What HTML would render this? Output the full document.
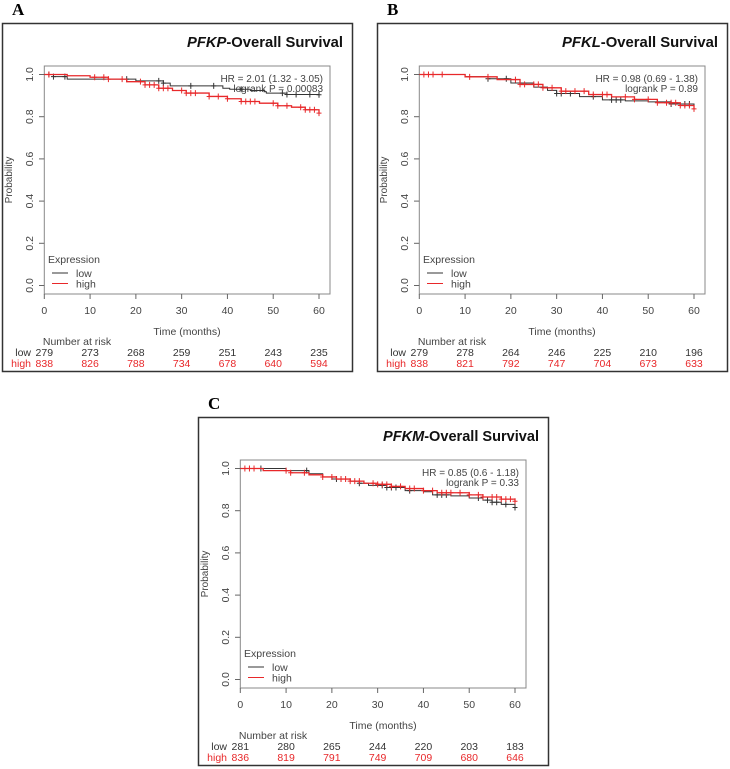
<!DOCTYPE html>
<html><head><meta charset="utf-8"><style>
html,body{margin:0;padding:0;background:#fff}
svg{display:block}
text{font-family:"Liberation Sans",sans-serif}
</style></head><body>
<svg id="fig" width="730" height="769" viewBox="0 0 730 769" xmlns="http://www.w3.org/2000/svg"></svg>
<script>
// ---- data ----
const xTicks=[0,10,20,30,40,50,60];
const yTicks=[0,0.2,0.4,0.6,0.8,1.0];
const yTickLabels=["0.0","0.2","0.4","0.6","0.8","1.0"];
const panelLetters=["A","B","C"];
const panelGenes=["PFKP","PFKL","PFKM"];
const hrLabels=["HR = 2.01 (1.32 - 3.05)","HR = 0.98 (0.69 - 1.38)","HR = 0.85 (0.6 - 1.18)"];
const pLabels=["logrank P = 0.00083","logrank P = 0.89","logrank P = 0.33"];
// step curves: times and survival
const aLowT=[0,2,5,20,26,27.5,39,40.5,45,48,48.5,53,60];
const aLowS=[1,0.99,0.978,0.970,0.959,0.946,0.935,0.930,0.924,0.918,0.912,0.905,0.904];
const aHighT=[0,5,10,14,18,22,25,28,31,36,40,43,47,51,54,57,60];
const aHighS=[1,0.994,0.987,0.978,0.966,0.951,0.935,0.924,0.912,0.896,0.885,0.872,0.864,0.852,0.845,0.833,0.817];
const bLowT=[0,10,15,20,25,28,30,35,40,45,50,55,60];
const bLowS=[1,0.99,0.98,0.96,0.94,0.925,0.91,0.895,0.88,0.875,0.87,0.86,0.845];
const bHighT=[0,10,17,22,27,31,37,42,47,52,57,60];
const bHighS=[1,0.989,0.976,0.953,0.937,0.921,0.905,0.894,0.882,0.866,0.853,0.837];
const cLowT=[0,10,15,18,20,24,26,28,32,36,40,42,46,50,53,55,57,60];
const cLowS=[1,0.99,0.975,0.96,0.95,0.94,0.93,0.92,0.91,0.895,0.89,0.875,0.87,0.86,0.85,0.84,0.83,0.815];
const cHighT=[0,5,11,15,18,21,24,27,30,33,36,40,43,50,53,57,60];
const cHighS=[1,0.99,0.98,0.97,0.96,0.95,0.94,0.93,0.925,0.915,0.905,0.895,0.885,0.875,0.865,0.855,0.845];
const aLowCens=[1,2,4.5,18,25,26,32,37,43,52,53,55,58,60];
const aHighCens=[1,11,13,14,17,21,22,23,24,25,26,27,30,31,32,33,36,38,40,43,44,45,46,50,51,53,56,57,58,59,60];
const bLowCens=[15,19,30,31,33,38,42,43,44,55,58,59];
const bHighCens=[1,2,3,5,11,15,21,22,23,25,26,27,29,31,32,34,36,38,40,41,45,47,50,52,54,55,56,57,58,59,60];
const cLowCens=[4.5,14.5,21,22,26,31,32,33,34,37,43,44,45,52,54,55,56,58,60];
const cHighCens=[1,2,3,10,11,14,18,20,22,23,24,25,26,29,30,31,32,33,35,37,38,40,42,44,45,46,48,50,52,53,55,56,57,58,59,60];
const lowRisk=[[279,273,268,259,251,243,235],[279,278,264,246,225,210,196],[281,280,265,244,220,203,183]];
const highRisk=[[838,826,788,734,678,640,594],[838,821,792,747,704,673,633],[836,819,791,749,709,680,646]];
const series=[[aLowT,aLowS,aHighT,aHighS,aLowCens,aHighCens],[bLowT,bLowS,bHighT,bHighS,bLowCens,bHighCens],[cLowT,cLowS,cHighT,cHighS,cLowCens,cHighCens]];
const offsets=[[0,0],[375,0],[196,394]];
// ---- drawing ----
const NS="http://www.w3.org/2000/svg";
const svg=document.getElementById('fig');
const RED="#e8282a", BLK="#333";
function mk(tag,attrs,parent,text){const e=document.createElementNS(NS,tag);for(const k in attrs)e.setAttribute(k,attrs[k]);if(text!==undefined)e.textContent=text;(parent||svg).appendChild(e);return e;}
function stepAt(T,S,t){let v=S[0];for(let i=0;i<T.length;i++){if(T[i]<=t)v=S[i];}return v;}
for(let p=0;p<3;p++){
  const [ox,oy]=offsets[p];
  const g=mk('g',{transform:`translate(${ox},${oy})`});
  
  
  const X=t=>44.3+t*(319-44.3)/60;
  const Y=s=>285.5-s*(285.5-74.5);
  let e;
  e=mk('text',{x:12,y:15,style:'font-family:"Liberation Serif",serif;font-weight:bold;font-size:17px'},g,panelLetters[p]);
  
  e=mk('rect',{x:2.5,y:23.5,width:350,height:348,fill:'none',stroke:'#333','stroke-width':1.5},g);
  
  const title=mk('text',{x:343,y:47,'text-anchor':'end','font-weight':'bold','font-size':'15',fill:'#111',textLength:156,lengthAdjust:'spacingAndGlyphs'},g);
  
  mk('tspan',{'font-style':'italic'},title,panelGenes[p]);
  mk('tspan',{},title,'-Overall Survival');
  e=mk('rect',{x:44.3,y:66,width:285.7,height:228,fill:'none',stroke:'#888','stroke-width':1},g);
  
  xTicks.forEach((t,i)=>{
    e=mk('line',{x1:X(t),x2:X(t),y1:294,y2:299,stroke:'#666'},g);
    
    e=mk('text',{x:X(t),y:314,'text-anchor':'middle','font-size':'10.5',fill:'#444'},g,String(t));
    
    e=mk('text',{x:X(t),y:356,'text-anchor':'middle','font-size':'10.5',fill:'#333'},g,String(lowRisk[p][i]));
    
    e=mk('text',{x:X(t),y:367,'text-anchor':'middle','font-size':'10.5',fill:RED},g,String(highRisk[p][i]));
    
  });
  yTicks.forEach((v,i)=>{
    e=mk('line',{x1:39,x2:44.3,y1:Y(v),y2:Y(v),stroke:'#666'},g);
    
    e=mk('text',{x:0,y:0,transform:`translate(33,${Y(v)}) rotate(-90)`,'text-anchor':'middle','font-size':'10.5',fill:'#444'},g,yTickLabels[i]);
    
  });
  e=mk('text',{x:0,y:0,transform:'translate(12,180) rotate(-90)','text-anchor':'middle','font-size':'10',fill:'#444'},g,'Probability');
  
  e=mk('text',{x:187,y:335,'text-anchor':'middle','font-size':'10.5',fill:'#444'},g,'Time (months)');
  
  e=mk('text',{x:77,y:345,'text-anchor':'middle','font-size':'10.5',fill:'#444'},g,'Number at risk');
  
  e=mk('text',{x:31,y:356,'text-anchor':'end','font-size':'10.5',fill:'#333'},g,'low');
  
  e=mk('text',{x:31,y:367,'text-anchor':'end','font-size':'10.5',fill:RED},g,'high');
  
  e=mk('text',{x:323,y:82,'text-anchor':'end','font-size':'10',fill:'#444'},g,hrLabels[p]);
  
  e=mk('text',{x:323,y:92,'text-anchor':'end','font-size':'10',fill:'#444'},g,pLabels[p]);
  
  // legend
  e=mk('text',{x:48,y:263,'font-size':'10.5',fill:'#444'},g,'Expression');
  
  e=mk('line',{x1:52,x2:68,y1:273,y2:273,stroke:BLK},g);
  
  e=mk('text',{x:76,y:277,'font-size':'10.5',fill:'#444'},g,'low');
  
  e=mk('line',{x1:52,x2:68,y1:283.5,y2:283.5,stroke:RED},g);
  
  e=mk('text',{x:76,y:287.5,'font-size':'10.5',fill:'#444'},g,'high');
  
  // curves
  const [lT,lS,hT,hS,lC,hC]=series[p];
  const curves=[[lT,lS,lC,BLK,'low',1],[hT,hS,hC,RED,'high',1.3]];
  [0,1].forEach(ci=>{
    const [T,S,C,col,nm,sw]=curves[ci];
    let d=`M${X(T[0])},${Y(S[0])}`;
    for(let i=1;i<T.length;i++){d+=` H${X(T[i])} V${Y(S[i])}`;}
    d+=` H${X(60)}`;
    e=mk('path',{d:d,fill:'none',stroke:col,'stroke-width':sw},g);
    
    C.forEach(t=>{
      const cx=X(t),cy=Y(stepAt(T,S,t));
      e=mk('path',{d:`M${cx-2.5},${cy}H${cx+2.5}M${cx},${cy-3}V${cy+3}`,stroke:col,'stroke-width':1},g);
      
    });
  });
}
</script>
</body></html>
